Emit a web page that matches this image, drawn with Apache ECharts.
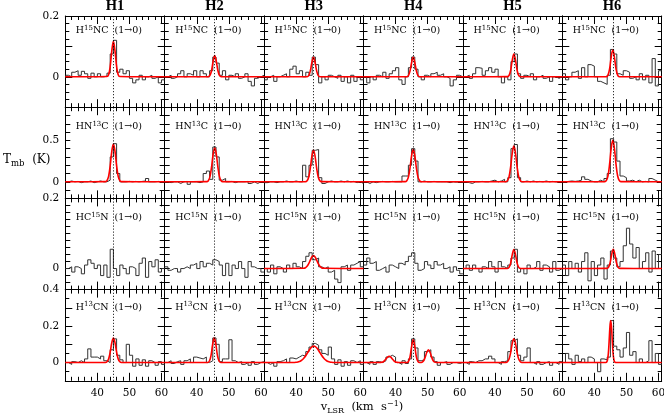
<!DOCTYPE html>
<html><head><meta charset="utf-8">
<script src="https://cdn.jsdelivr.net/npm/echarts@6/dist/echarts.min.js"></script>
<style>html,body{margin:0;padding:0;background:#fff}#c{width:664px;height:419px}</style>
</head><body><div id="c"></div><script>
// ---------------- data ----------------
const columns = ['H1', 'H2', 'H3', 'H4', 'H5', 'H6'];
const lineCenters = [45.0, 45.6, 45.4, 45.5, 45.9, 45.75];
const channelVel = [30,31,32,33,34,35,36,37,38,39,40,41,42,43,44,45,46,47,48,49,50,51,52,53,54,55,56,57,58,59,60];
const channelWidth = 1;
const molecules = [
  {pre: 'H', iso: '15', post: 'NC'},
  {pre: 'HN', iso: '13', post: 'C'},
  {pre: 'HC', iso: '15', post: 'N'},
  {pre: 'H', iso: '13', post: 'CN'}
];
const transition = '(1\u21920)';
const xTickLabels = [40, 50, 60];
const yTickLabels = [[0, 0.2], [0, 0.5], [0, 0.2], [0, 0.2, 0.4]];

const tH15NC = [
  [0.005,0.0,0.015,0.02,0.005,0.018,0.01,-0.005,0.012,0.0,0.01,0.0,0.002,0.012,0.075,0.12,0.015,0.025,0.01,0.02,-0.005,-0.02,-0.01,0.005,-0.01,0.0,0.005,-0.005,0.0,-0.02,-0.01],
  [0.0,0.005,-0.005,0.0,0.01,0.02,0.0,0.01,0.005,0.02,0.0,0.02,0.01,0.0,0.02,0.065,0.045,0.005,0.02,-0.01,0.005,0.0,0.01,-0.005,0.0,0.01,-0.015,-0.03,-0.005,0.0,0.005],
  [-0.01,0.0,0.005,-0.015,0.0,0.005,0.01,0.0,0.025,0.035,0.01,0.02,0.0,0.015,0.005,0.065,0.04,-0.02,0.0,-0.01,0.005,0.0,-0.005,0.005,-0.015,0.0,-0.02,0.005,-0.015,0.0,-0.01],
  [0.0,-0.02,0.0,-0.01,0.005,0.0,0.015,-0.005,0.01,0.02,0.03,-0.01,-0.025,0.0,0.03,0.065,0.025,0.0,-0.01,0.005,0.0,0.01,0.015,0.005,0.01,0.0,-0.005,-0.03,-0.01,0.005,0.0],
  [0.0,0.005,-0.005,0.01,0.03,0.028,0.005,0.02,0.03,0.015,0.025,0.0,-0.02,0.0,-0.01,0.05,0.075,0.01,-0.005,0.005,0.0,0.01,-0.01,0.0,0.005,-0.005,0.0,-0.015,0.0,-0.005,0.0],
  [0.01,-0.01,0.0,0.015,0.02,-0.005,0.03,0.0,0.04,0.035,0.0,-0.015,-0.02,-0.025,0.005,0.09,0.075,0.01,0.005,0.02,0.015,-0.005,0.0,-0.01,0.01,-0.01,0.005,-0.02,0.06,-0.03,0.02]
];
const tHN13C = [
  [0.0,0.01,0.0,0.005,-0.01,0.0,0.0,0.01,-0.01,0.0,0.01,0.0,0.0,0.02,0.3,0.46,0.1,0.0,0.0,0.005,0.0,0.005,0.0,0.005,0.01,0.04,0.0,0.0,0.005,-0.005,0.0],
  [0.0,-0.01,0.0,0.0,-0.02,0.0,0.005,-0.03,0.0,0.0,-0.01,0.0,0.1,0.13,0.03,0.42,0.3,0.02,0.04,0.0,0.005,-0.01,0.0,0.0,0.0,0.005,-0.02,0.0,-0.02,0.0,0.0],
  [-0.01,0.0,0.0,-0.01,0.0,0.0,0.01,0.0,0.0,0.01,0.0,0.0,0.2,0.06,0.2,0.38,0.39,0.05,-0.02,0.0,0.01,0.0,0.0,0.01,0.0,0.01,0.0,0.005,-0.01,0.0,-0.02],
  [0.0,-0.02,0.0,-0.01,0.0,0.005,0.0,0.0,0.005,0.0,0.0,0.0,0.07,0.07,0.2,0.4,0.25,0.0,0.01,0.0,0.0,0.005,0.0,0.0,0.0,0.0,-0.01,0.0,-0.005,0.0,0.0],
  [0.0,-0.01,-0.02,0.0,0.0,0.005,0.0,0.0,0.01,0.02,0.0,0.01,0.03,0.0,0.05,0.4,0.45,0.05,0.0,0.01,0.0,0.01,0.0,0.005,0.0,0.01,0.0,0.005,0.0,0.0,0.005],
  [0.0,0.005,0.01,0.005,0.01,0.02,0.06,0.03,0.01,0.0,0.0,0.02,0.0,0.04,0.1,0.52,0.48,0.25,0.07,0.05,0.01,0.02,0.0,0.02,0.0,0.005,0.0,0.04,0.02,0.0,0.0]
];
const tHC15N = [
  [0.0,0.005,-0.01,0.005,0.0,-0.015,0.01,0.025,0.015,0.0,0.01,-0.02,0.01,-0.025,0.055,0.0,-0.02,0.01,0.0,-0.015,0.005,0.0,-0.02,0.015,0.03,-0.025,0.02,0.005,0.025,-0.01,0.0],
  [0.005,-0.005,0.0,0.0,-0.01,0.0,0.005,0.0,0.01,0.015,0.0,0.02,0.005,0.015,0.01,0.025,0.02,0.01,-0.02,0.015,-0.02,0.01,0.0,0.02,0.0,-0.025,0.02,0.005,0.0,0.0,-0.01],
  [0.0,-0.01,0.01,-0.015,0.005,0.0,-0.01,0.01,0.0,0.015,0.005,0.0,0.02,0.035,0.045,0.025,0.03,0.005,0.0,0.005,-0.01,-0.005,-0.03,-0.04,0.005,0.01,-0.005,0.01,0.015,0.02,0.005],
  [0.01,0.03,0.015,0.02,-0.005,0.0,0.005,-0.01,0.01,0.005,0.0,0.015,0.01,0.02,0.035,0.045,0.015,-0.005,0.0,0.02,0.01,0.0,0.02,0.01,0.015,0.0,0.005,-0.01,0.005,-0.005,-0.015],
  [0.0,0.01,-0.005,0.01,0.0,-0.01,0.005,0.0,0.02,0.005,-0.01,0.02,0.005,0.0,0.01,0.03,0.055,-0.01,0.0,-0.015,0.01,0.0,0.005,0.02,-0.005,0.01,0.005,-0.01,0.02,-0.005,0.0],
  [0.01,-0.02,0.02,0.0,0.015,-0.01,0.02,0.045,-0.035,0.02,-0.02,0.01,0.03,-0.03,0.01,0.05,0.03,0.005,0.02,0.065,0.115,0.07,0.03,0.06,0.0,0.02,0.045,-0.01,0.05,0.0,0.04]
];
const tH13CN = [
  [0.0,-0.01,0.005,0.0,0.01,0.0,0.02,0.075,0.03,0.03,0.02,0.035,0.01,0.0,0.07,0.13,0.04,0.015,0.0,0.1,0.04,-0.02,0.02,-0.015,0.015,-0.02,0.01,0.0,-0.015,0.005,-0.01],
  [0.0,0.01,-0.005,0.005,0.01,-0.01,0.01,0.02,0.0,0.03,0.025,0.02,0.03,0.0,0.01,0.135,0.1,0.005,0.02,0.02,0.125,0.01,0.0,0.005,-0.01,0.0,-0.015,0.005,-0.01,0.0,0.005],
  [0.0,-0.01,0.0,-0.02,0.005,0.01,0.02,0.0,0.025,0.02,0.03,0.04,0.035,0.06,0.085,0.105,0.095,0.07,0.05,0.04,0.085,0.02,-0.01,0.015,-0.02,0.005,-0.015,0.01,0.0,0.01,-0.01],
  [0.0,-0.01,0.005,-0.01,0.005,0.0,0.01,0.03,0.04,0.03,0.0,-0.01,0.01,-0.005,0.02,0.13,0.08,0.01,0.015,0.06,0.07,0.03,0.005,-0.015,0.0,0.005,-0.01,0.0,0.0,-0.005,0.0],
  [0.0,-0.01,0.005,0.0,0.01,0.01,0.02,0.02,0.035,0.02,0.0,-0.01,0.005,0.01,0.06,0.12,0.13,0.04,0.01,0.03,0.08,0.0,-0.01,0.005,-0.01,0.0,0.005,-0.015,0.0,-0.01,0.005],
  [0.0,0.05,0.02,-0.01,0.04,0.005,0.02,0.0,0.03,0.02,0.0,-0.05,0.02,0.015,0.03,0.23,0.09,0.07,0.03,0.08,0.165,0.04,0.06,0.0,0.02,0.0,0.01,0.12,0.0,0.05,-0.01]
];

const fitH15NC = [
  [[30,0],[43,0.001],[43.5,0.007],[44,0.034],[44.5,0.085],[45,0.116],[45.5,0.085],[46,0.034],[46.5,0.007],[47,0.001],[61,0]],
  [[30,0],[43.6,0.0005],[44.1,0.0044],[44.6,0.02],[45.1,0.051],[45.6,0.07],[46.1,0.051],[46.6,0.02],[47.1,0.0044],[47.6,0.0005],[61,0]],
  [[30,0],[43.4,0.0004],[43.9,0.004],[44.4,0.019],[44.9,0.047],[45.4,0.064],[45.9,0.047],[46.4,0.019],[46.9,0.004],[47.4,0.0004],[61,0]],
  [[30,0],[43.5,0.0004],[44,0.004],[44.5,0.019],[45,0.047],[45.5,0.064],[46,0.047],[46.5,0.019],[47,0.004],[47.5,0.0004],[61,0]],
  [[30,0],[43.9,0.0005],[44.4,0.0047],[44.9,0.022],[45.4,0.055],[45.9,0.075],[46.4,0.055],[46.9,0.022],[47.4,0.0047],[47.9,0.0005],[61,0]],
  [[30,0],[43.75,0.0006],[44.25,0.0055],[44.75,0.026],[45.25,0.065],[45.75,0.088],[46.25,0.065],[46.75,0.026],[47.25,0.0055],[47.75,0.0006],[61,0]]
];
const fitHN13C = [
  [[30,0],[42.5,0.002],[43,0.015],[43.5,0.066],[44,0.193],[44.5,0.367],[45,0.455],[45.5,0.367],[46,0.193],[46.5,0.066],[47,0.015],[47.5,0.002],[61,0]],
  [[30,0],[43.1,0.002],[43.6,0.0135],[44.1,0.06],[44.6,0.174],[45.1,0.331],[45.6,0.41],[46.1,0.331],[46.6,0.174],[47.1,0.06],[47.6,0.0135],[48.1,0.002],[61,0]],
  [[30,0],[42.9,0.0018],[43.4,0.0125],[43.9,0.055],[44.4,0.1615],[44.9,0.307],[45.4,0.38],[45.9,0.307],[46.4,0.1615],[46.9,0.055],[47.4,0.0125],[47.9,0.0018],[61,0]],
  [[30,0],[43,0.0018],[43.5,0.013],[44,0.057],[44.5,0.166],[45,0.315],[45.5,0.39],[46,0.315],[46.5,0.166],[47,0.057],[47.5,0.013],[48,0.0018],[61,0]],
  [[30,0],[43.4,0.002],[43.9,0.014],[44.4,0.063],[44.9,0.183],[45.4,0.347],[45.9,0.43],[46.4,0.347],[46.9,0.183],[47.4,0.063],[47.9,0.014],[48.4,0.002],[61,0]],
  [[30,0],[43.25,0.0024],[43.75,0.0165],[44.25,0.073],[44.75,0.2125],[45.25,0.4035],[45.75,0.5],[46.25,0.4035],[46.75,0.2125],[47.25,0.073],[47.75,0.0165],[48.25,0.0024],[61,0]]
];
const fitHC15N = [
  null,
  null,
  [[30,0],[42.4,0.0007],[42.9,0.0023],[43.4,0.0063],[43.9,0.0137],[44.4,0.0238],[44.9,0.0331],[45.4,0.037],[45.9,0.0331],[46.4,0.0238],[46.9,0.0137],[47.4,0.0063],[47.9,0.0023],[48.4,0.0007],[61,0]],
  null,
  [[30,0],[43.9,0.0004],[44.4,0.0034],[44.9,0.0158],[45.4,0.0397],[45.9,0.054],[46.4,0.0397],[46.9,0.0158],[47.4,0.0034],[47.9,0.0004],[61,0]],
  [[30,0],[43.9,0.0004],[44.4,0.0034],[44.9,0.016],[45.4,0.04],[45.9,0.055],[46.4,0.04],[46.9,0.016],[47.4,0.0034],[47.9,0.0004],[61,0]]
];
const fitH13CN = [
  [[30,0],[42.5,0.0006],[43,0.0045],[43.5,0.0197],[44,0.0574],[44.5,0.109],[45,0.135],[45.5,0.109],[46,0.0574],[46.5,0.0197],[47,0.0045],[47.5,0.0006],[61,0]],
  [[30,0],[43.45,0.001],[43.95,0.0084],[44.45,0.0394],[44.95,0.0992],[45.45,0.135],[45.95,0.0992],[46.45,0.0394],[46.95,0.0084],[47.45,0.001],[61,0]],
  [[30,0],[39.5,0.0006],[40,0.0014],[40.5,0.003],[41,0.0056],[41.5,0.01],[42,0.0168],[42.5,0.0263],[43,0.0383],[43.5,0.052],[44,0.0662],[44.5,0.0785],[45,0.087],[45.5,0.09],[46,0.087],[46.5,0.0785],[47,0.0662],[47.5,0.052],[48,0.0383],[48.5,0.0263],[49,0.0168],[49.5,0.01],[50,0.0056],[50.5,0.003],[51,0.0014],[51.5,0.0006],[61,0]],
  [[30,0],[35,0.0002],[35.5,0.001],[36,0.0035],[36.5,0.0097],[37,0.0197],[37.5,0.0303],[38,0.035],[38.5,0.0303],[39,0.0197],[39.5,0.0097],[40,0.0035],[40.5,0.001],[41,0.0002],[43.5,0.0004],[44,0.0052],[44.5,0.0304],[45,0.0877],[45.5,0.125],[46,0.0877],[46.5,0.0304],[47,0.0052],[47.5,0.0005],[48.25,0.0023],[48.75,0.0102],[49.25,0.0298],[49.75,0.0565],[50.25,0.07],[50.75,0.0565],[51.25,0.0298],[51.75,0.0102],[52.25,0.0023],[52.75,0.0003],[61,0]],
  [[30,0],[43.4,0.0006],[43.9,0.0043],[44.4,0.019],[44.9,0.0553],[45.4,0.105],[45.9,0.13],[46.4,0.105],[46.9,0.0553],[47.4,0.019],[47.9,0.0043],[48.4,0.0006],[61,0]],
  [[30,0],[43.6,0.0005],[43.85,0.003],[44.1,0.0144],[44.35,0.0483],[44.6,0.115],[44.85,0.1935],[45.1,0.23],[45.35,0.1935],[45.6,0.115],[45.85,0.0483],[46.1,0.0144],[46.35,0.003],[46.6,0.0005],[61,0]]
];

// ---------------- layout ----------------
const SERIF = 'DejaVu Serif';
const GL = 65.3, GW = 99.4, GT = 16, GH = 91.2;
const labelDy = [15, 19.5, 19.5, 17.5];
const rows = [
  {hist: tH15NC, fit: fitH15NC, min: -0.1, max: 0.2, interval: 0.1, minor: 4, major: 7},
  {hist: tHN13C, fit: fitHN13C, min: -0.2, max: 0.9, interval: 0.1, minor: 0, major: 5},
  {hist: tHC15N, fit: fitHC15N, min: -0.06, max: 0.2, interval: 0.02, minor: 0, major: 5},
  {hist: tH13CN, fit: fitH13CN, min: -0.1, max: 0.4, interval: 0.1, minor: 2, major: 7}
];
const AX = {color: '#000', width: 1};

function fmtLabel(list) {
  return function (v) {
    for (const t of list) if (Math.abs(t - v) < 1e-7) return String(t);
    return '';
  };
}
function xAx(g, pos, showLabel) {
  return {
    type: 'value', gridIndex: g, position: pos, min: 30, max: 61, interval: 10,
    axisLine: {show: true, onZero: false, lineStyle: AX},
    axisTick: {show: true, inside: true, length: 8, lineStyle: AX},
    minorTick: {show: true, splitNumber: 5, length: 4, lineStyle: AX},
    splitLine: {show: false}, minorSplitLine: {show: false},
    axisLabel: {show: showLabel, margin: 7, fontFamily: SERIF, fontSize: 10.5, color: '#000',
      showMinLabel: true, showMaxLabel: true, formatter: fmtLabel(xTickLabels)}
  };
}
function yAx(g, r, pos, showLabel) {
  const a = rows[r];
  return {
    type: 'value', gridIndex: g, position: pos, min: a.min, max: a.max, interval: a.interval,
    axisLine: {show: true, onZero: false, lineStyle: AX},
    axisTick: {show: true, inside: true, length: a.major, lineStyle: AX},
    minorTick: {show: a.minor > 0, splitNumber: a.minor || 2, length: 4, lineStyle: AX},
    splitLine: {show: false}, minorSplitLine: {show: false},
    axisLabel: {show: showLabel, margin: 6, fontFamily: SERIF, fontSize: 10.5, color: '#000',
      showMinLabel: true, showMaxLabel: true, formatter: fmtLabel(yTickLabels[r])}
  };
}

const grids = [], xAxes = [], yAxes = [], series = [], graphics = [];
for (let r = 0; r < 4; r++) {
  for (let c = 0; c < 6; c++) {
    const g = r * 6 + c;
    grids.push({left: GL + GW * c, top: GT + GH * r, width: GW, height: GH,
      containLabel: false, outerBoundsMode: 'none', show: false});
    xAxes.push(xAx(g, 'bottom', r === 3));
    xAxes.push(xAx(g, 'top', false));
    yAxes.push(yAx(g, r, 'left', c === 0));
    yAxes.push(yAx(g, r, 'right', false));
    const vals = rows[r].hist[c];
    const histData = channelVel.map((v, i) => [v, vals[i]]);
    histData.push([channelVel[channelVel.length - 1] + channelWidth, vals[vals.length - 1]]);
    series.push({
      type: 'line', xAxisIndex: 2 * g, yAxisIndex: 2 * g, data: histData, step: 'end',
      symbol: 'none', silent: true, z: 2, animation: false,
      lineStyle: {color: '#333', width: 1},
      markLine: {silent: true, symbol: ['none', 'none'], label: {show: false}, animation: false,
        lineStyle: {color: '#000', width: 1, type: [1, 2]},
        emphasis: {disabled: true},
        data: [{xAxis: lineCenters[c]}]}
    });
    const fit = rows[r].fit[c];
    if (fit) {
      series.push({
        type: 'line', xAxisIndex: 2 * g, yAxisIndex: 2 * g, data: fit, smooth: 0.4,
        symbol: 'none', silent: true, z: 3, animation: false,
        lineStyle: {color: '#ff0000', width: 1.6}
      });
    }
    const m = molecules[r];
    graphics.push({
      type: 'text', x: GL + GW * c + 10.5, y: GT + GH * r + labelDy[r], silent: true,
      style: {
        text: '{a|' + m.pre + '}{s|' + m.iso + '}{a|' + m.post + '  ' + transition + '}',
        align: 'left', verticalAlign: 'middle',
        rich: {
          a: {fontFamily: SERIF, fontSize: 9.5, fill: '#000', lineHeight: 13},
          s: {fontFamily: SERIF, fontSize: 7, fill: '#000', lineHeight: 6, verticalAlign: 'top'}
        }
      }
    });
  }
}
columns.forEach((name, c) => {
  graphics.push({type: 'text', x: GL + GW * (c + 0.5), y: 6.5, silent: true,
    style: {text: name, align: 'center', verticalAlign: 'middle', fontFamily: 'Liberation Serif',
      fontWeight: 'bold', fontSize: 14.5, fill: '#000'}});
});
graphics.push({type: 'text', x: 3, y: 160, silent: true,
  style: {text: '{a|T}{b|mb}{a|  (K)}', align: 'left', verticalAlign: 'middle',
    rich: {a: {fontFamily: SERIF, fontSize: 12, fill: '#000', lineHeight: 16},
           b: {fontFamily: SERIF, fontSize: 8.5, fill: '#000', lineHeight: 8, verticalAlign: 'bottom'}}}});
graphics.push({type: 'text', x: 362, y: 407, silent: true,
  style: {text: '{a|v}{b|LSR}{a|  (km  s}{c|\u22121}{a|)}', align: 'center', verticalAlign: 'middle',
    rich: {a: {fontFamily: SERIF, fontSize: 11.5, fill: '#000', lineHeight: 15},
           b: {fontFamily: SERIF, fontSize: 8, fill: '#000', lineHeight: 8, verticalAlign: 'bottom'},
           c: {fontFamily: SERIF, fontSize: 8, fill: '#000', lineHeight: 7, verticalAlign: 'top'}}}});

const chart = echarts.init(document.getElementById('c'), null, {renderer: 'canvas'});
chart.setOption({
  animation: false,
  backgroundColor: '#fff',
  textStyle: {fontFamily: SERIF},
  grid: grids, xAxis: xAxes, yAxis: yAxes, series: series, graphic: graphics
});
</script></body></html>
